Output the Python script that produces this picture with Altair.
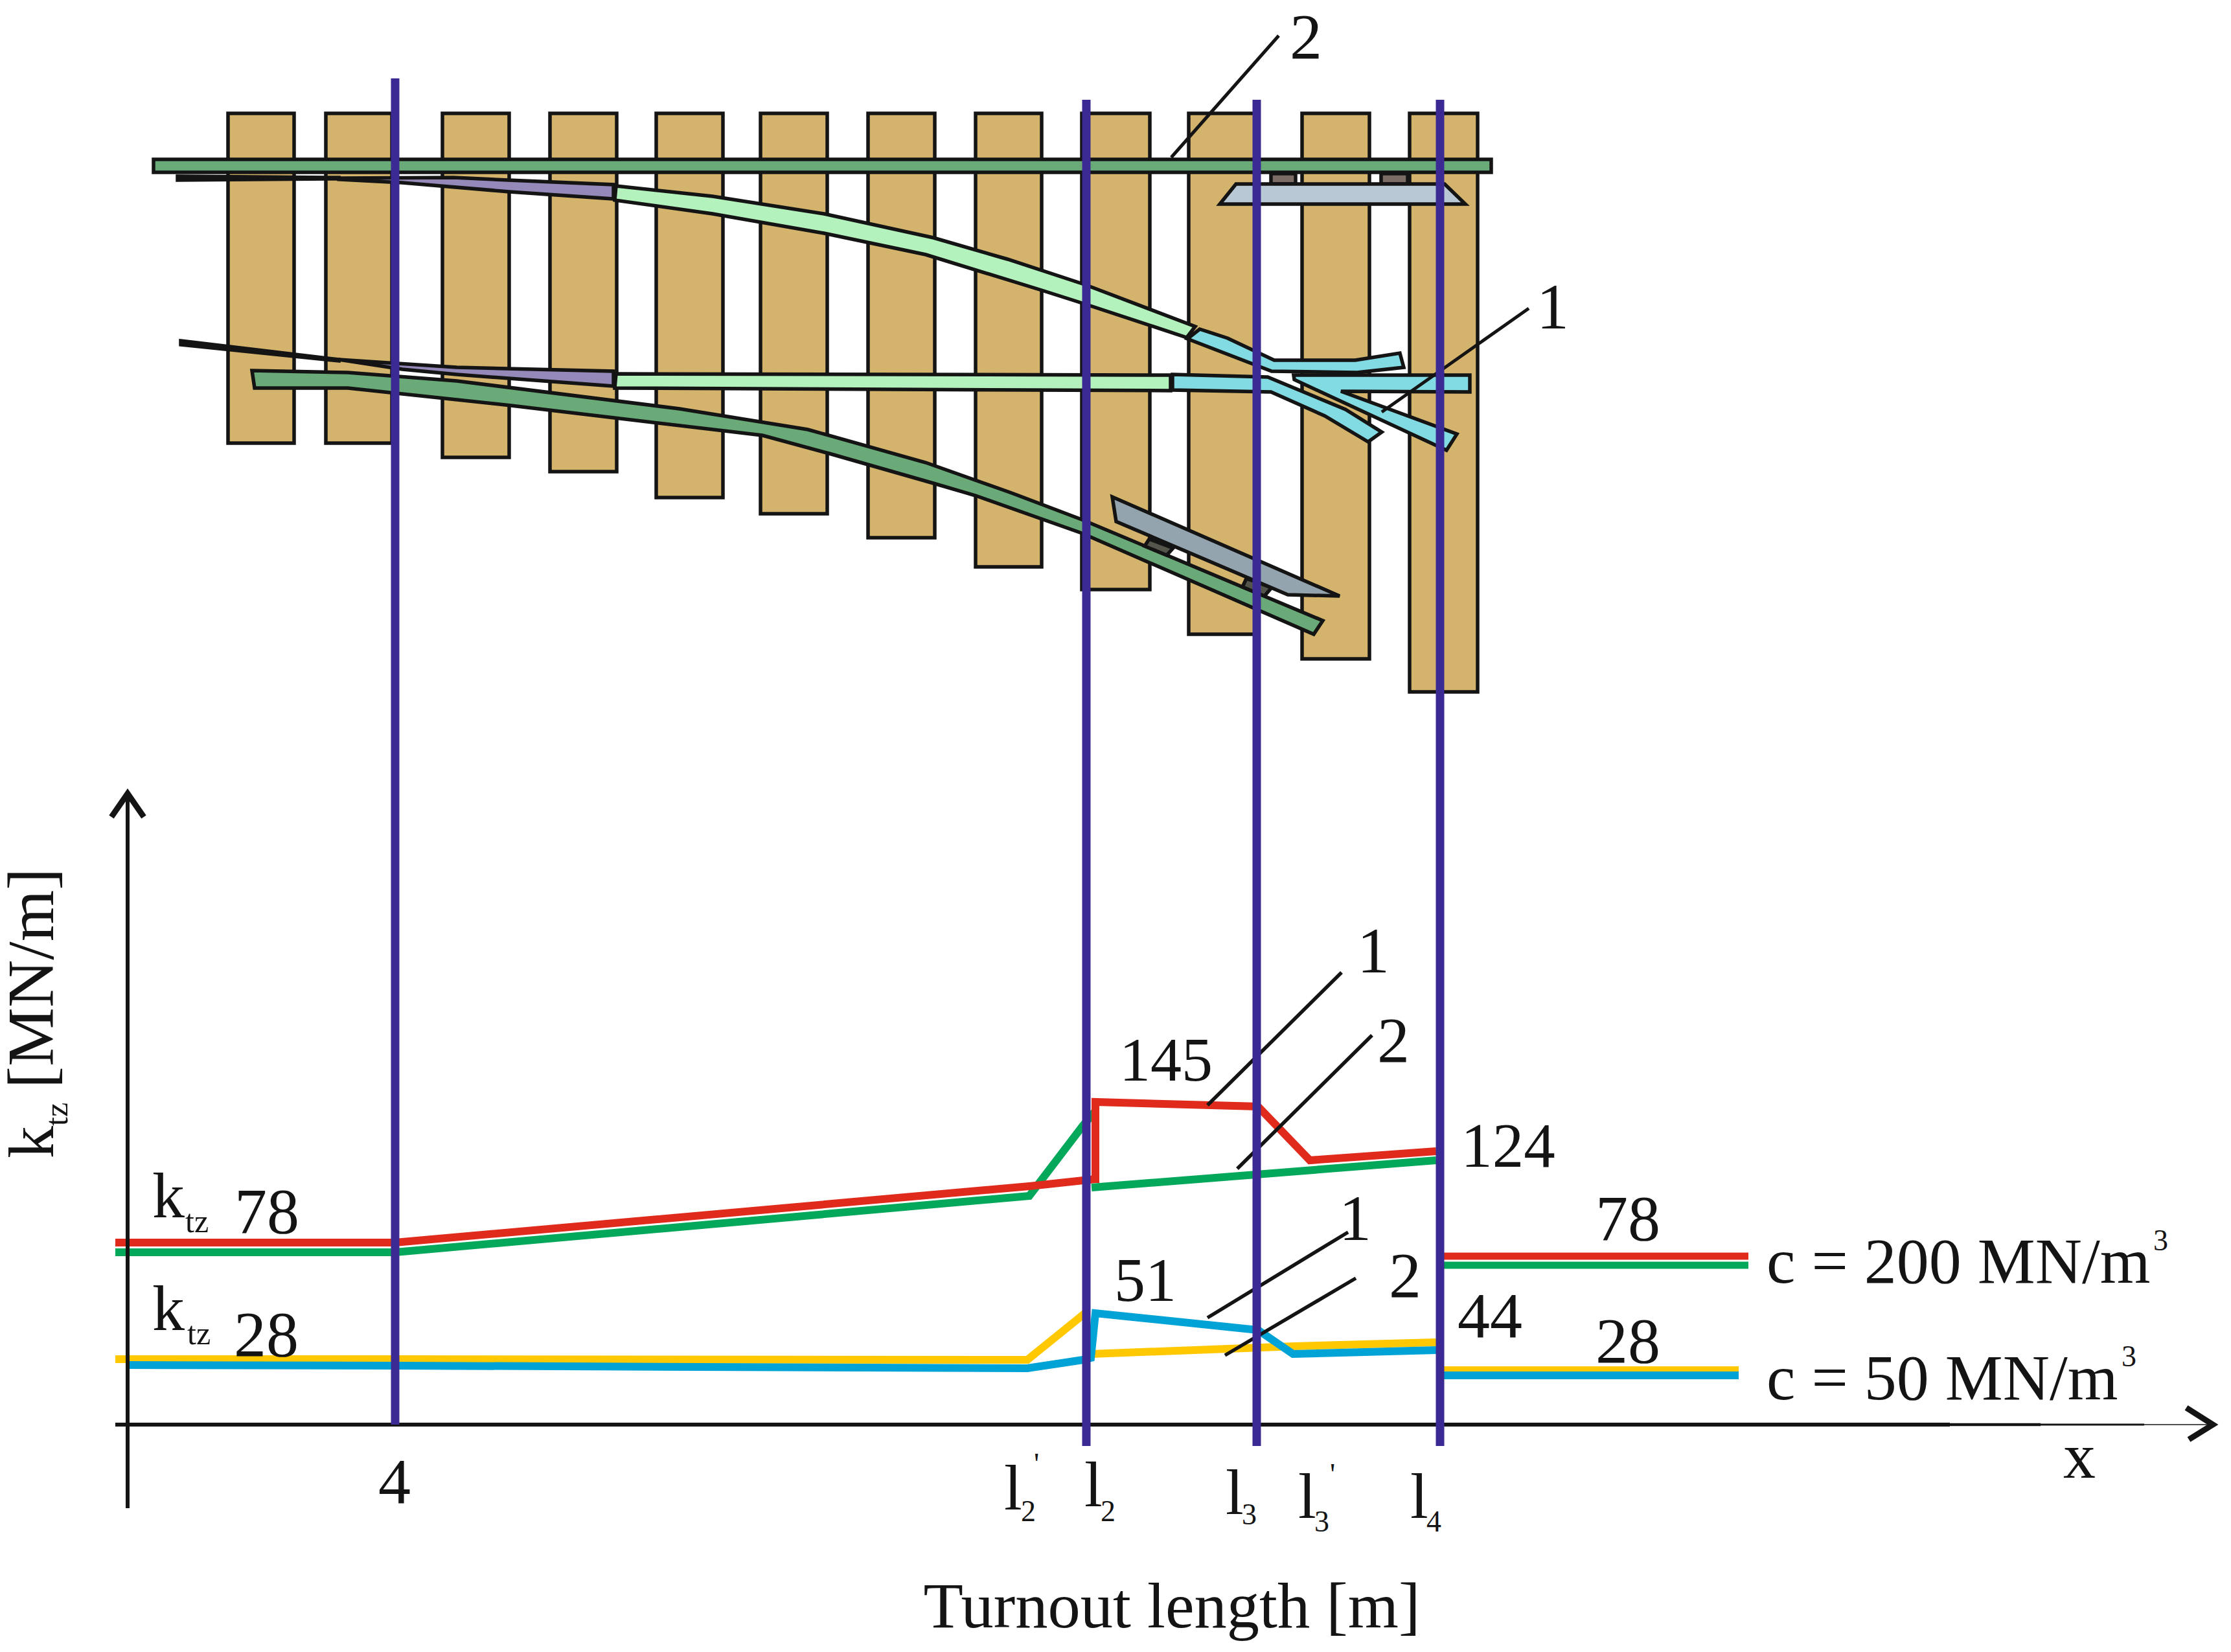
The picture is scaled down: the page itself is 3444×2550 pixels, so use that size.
import altair as alt
import pandas as pd

INK = "#141414"
W, H = 3428, 2530
X = alt.Scale(domain=[8, 8 + W], nice=False, zero=False)
Y = alt.Scale(domain=[8 + H, 8], nice=False, zero=False)

# sleepers: left, right, bottom (all share the same top)
sleeper_left = [352, 503, 683, 849, 1013, 1174, 1340, 1506, 1670, 1835, 2010, 2176]
sleeper_right = [454, 605, 786, 952, 1116, 1277, 1443, 1608, 1775, 1939, 2114, 2281]
sleeper_bottom = [684, 684, 706, 728, 768, 793, 830, 875, 910, 979, 1017, 1068]
sleeper_top = [175] * 12

# track parts, drawn in order: (fill, [(x, y), ...])
track_shapes = [
    ("#69AA78", [(237, 246), (2302, 246), (2302, 266), (237, 266)]),
    ("#7C6C66", [(1962, 268), (2000, 268), (2000, 284), (1962, 284)]),
    ("#7C6C66", [(2132, 268), (2173, 268), (2173, 284), (2132, 284)]),
    ("#B8C9D5", [(1908, 284), (2230, 284), (2262, 315), (1883, 315)]),
    ("#141414", [(274, 272), (523, 274), (523, 276), (274, 278)]),
    ("#9489B8", [(523, 275), (700, 274), (785, 278), (947, 285), (947, 307), (786, 296), (621, 282), (523, 277)]),
    ("#B3F2BC", [(951, 287), (1100, 303), (1272, 330), (1441, 367), (1555, 400), (1674, 439), (1845, 504),
                 (1832, 521), (1674, 469), (1608, 448), (1429, 393), (1272, 360), (1100, 330), (949, 309)]),
    ("#82DAE2", [(1852, 508), (1895, 522), (1967, 556), (2092, 556), (2161, 545), (2167, 567), (2095, 575),
                 (1963, 573), (1833, 523)]),
    ("#141414", [(279, 526), (523, 555), (523, 557), (279, 532)]),
    ("#69AA78", [(389, 572), (537, 575), (705, 588), (1049, 631), (1247, 663), (1429, 714), (1559, 760),
                 (1670, 802), (2042, 958), (2028, 979), (1670, 823), (1506, 765), (1441, 746), (1280, 700),
                 (1177, 672), (789, 626), (537, 599), (393, 599)]),
    ("#9489B8", [(523, 555), (705, 567), (947, 573), (947, 596), (705, 578), (621, 570)]),
    ("#B3F2BC", [(951, 577), (1807, 579), (1807, 603), (949, 599)]),
    ("#82DAE2", [(1997, 579), (2269, 579), (2269, 605), (2070, 604), (2249, 670), (2233, 695), (1998, 586)]),
    ("#82DAE2", [(1810, 578), (1957, 582), (2077, 632), (2133, 667), (2112, 682), (2045, 642), (1962, 605),
                 (1810, 602)]),
    ("#55554B", [(1774, 832), (1811, 846), (1801, 857), (1767, 843)]),
    ("#55554B", [(1924, 893), (1963, 907), (1952, 920), (1918, 906)]),
    ("#94A4AE", [(1717, 767), (2068, 920), (1988, 918), (1723, 805)]),
]

# stiffness curves, drawn in order: (colour, width, [(x, y), ...])
curves = [
    ("#04A85A", 12, [(178, 1933), (610, 1933), (1589, 1846), (1672, 1737), (1691, 1715)]),
    ("#04A85A", 12, [(1685, 1833), (2217, 1791)]),
    ("#DF2A1C", 12, [(178, 1918), (610, 1918), (1589, 1831), (1691, 1820)]),
    ("#DF2A1C", 12, [(1691, 1826), (1691, 1701), (1942, 1708), (2022, 1791), (2217, 1777)]),
    ("#04A85A", 11, [(2229, 1953), (2699, 1953)]),
    ("#DF2A1C", 11, [(2229, 1939), (2699, 1939)]),
    ("#FFC800", 12, [(178, 2098), (610, 2098), (1586, 2099), (1675, 2027)]),
    ("#FFC800", 12, [(1684, 2090), (1999, 2078), (2217, 2072)]),
    ("#00A3D6", 12, [(197, 2107), (610, 2108), (1586, 2112), (1672, 2099), (1684, 2096), (1691, 2027),
                     (1942, 2053), (1996, 2090), (2217, 2084)]),
    ("#FFC800", 8, [(2229, 2113), (2684, 2113)]),
    ("#00A3D6", 12, [(2229, 2123), (2684, 2123)]),
]

# leader lines and axis strokes: (width, [(x, y), ...])
leaders = [
    (5, [(1808, 243), (1974, 55)]),
    (5, [(2133, 636), (2360, 476)]),
    (5.5, [(1864, 1706), (2071, 1501)]),
    (5.5, [(1910, 1804), (2118, 1598)]),
    (5.5, [(1864, 2034), (2081, 1902)]),
    (5.5, [(1891, 2092), (2093, 1973)]),
]
axes_strokes = [
    (6, [(197, 1225), (197, 2328)]),
    (6, [(178, 2199), (3010, 2199)]),
    (4.5, [(3010, 2199), (3150, 2199)]),
    (3, [(3150, 2199), (3310, 2199)]),
    (1.5, [(3310, 2199), (3412, 2199)]),
    (9, [(172, 1261), (197, 1225), (222, 1261)]),
    (9, [(3375, 2173), (3416, 2199), (3379, 2222)]),
]

# vertical section lines: x, top, bottom
section_x = [610, 1677, 1940, 2223]
section_top = [121, 154, 154, 154]
section_bottom = [2199, 2232, 2232, 2232]

# labels: text, x, y (baseline), font size
center_labels = [
    ("2", 2016, 90, 100), ("1", 2397, 507, 100), ("1", 2120, 1501, 100), ("2", 2151, 1639, 100),
    ("145", 1800, 1668, 96), ("124", 2328, 1801, 97), ("51", 1768, 2008, 96), ("1", 2092, 1914, 100),
    ("2", 2169, 2002, 100), ("44", 2300, 2064, 100), ("78", 2513, 1914, 100), ("28", 2513, 2103, 100),
    ("78", 412, 1903, 100), ("28", 411, 2093, 100), ("4", 609, 2320, 100), ("x", 3210, 2281, 100),
    ("Turnout length [m]", 1809, 2512, 100.5),
]
left_labels = [
    ("k", 235, 1879, 100), ("tz", 286, 1902, 50), ("k", 235, 2053, 100), ("tz", 289, 2075, 50),
    ("c = 200 MN/m", 2727, 1980, 100), ("3", 3324, 1930, 46),
    ("c = 50 MN/m", 2727, 2160, 100), ("3", 3275, 2109, 46),
    ("l", 1550, 2330, 100), ("2", 1576, 2348, 46), ("'", 1596, 2275, 46),
    ("l", 1674, 2325, 100), ("2", 1699, 2348, 46),
    ("l", 1892, 2337, 100), ("3", 1917, 2353, 46),
    ("l", 2004, 2343, 100), ("3", 2029, 2364, 46), ("'", 2053, 2291, 46),
    ("l", 2177, 2343, 100), ("4", 2202, 2364, 46),
]
rotated_labels = [
    ("k", 82, 1788, 100), ("tz", 104, 1738, 50), ("[MN/m]", 82, 1680, 102),
]


def base(df):
    return alt.Chart(df)


def xy():
    return dict(
        x=alt.X("x:Q", scale=X, axis=None),
        y=alt.Y("y:Q", scale=Y, axis=None),
        order=alt.Order("i:Q"),
    )


def path_df(points):
    return pd.DataFrame({"x": [p[0] for p in points], "y": [p[1] for p in points], "i": range(len(points))})


layers = []

sleepers = pd.DataFrame({"x": sleeper_left, "x2": sleeper_right, "y": sleeper_top, "y2": sleeper_bottom})
layers.append(
    base(sleepers).mark_rect(fill="#D4B36C", stroke=INK, strokeWidth=5.5).encode(
        x=alt.X("x:Q", scale=X, axis=None), x2="x2:Q",
        y=alt.Y("y:Q", scale=Y, axis=None), y2="y2:Q",
    )
)

for fill, pts in track_shapes:
    layers.append(
        base(path_df(pts)).mark_line(interpolate="linear-closed", strokeWidth=5.5, strokeJoin="miter").encode(
            fill=alt.value(fill), stroke=alt.value(INK), **xy()
        )
    )

for width, pts in leaders[:2]:
    layers.append(
        base(path_df(pts)).mark_line(strokeWidth=width, color=INK, strokeCap="butt").encode(**xy())
    )

for color, width, pts in curves:
    layers.append(
        base(path_df(pts)).mark_line(strokeWidth=width, color=color, strokeJoin="miter", strokeCap="butt").encode(**xy())
    )

for width, pts in leaders[2:] + axes_strokes:
    layers.append(
        base(path_df(pts)).mark_line(strokeWidth=width, color=INK, strokeCap="butt", strokeJoin="miter").encode(**xy())
    )

sections = pd.DataFrame({"x": section_x, "y": section_top, "y2": section_bottom})
layers.append(
    base(sections).mark_rule(color="#3B2A94", strokeWidth=13).encode(
        x=alt.X("x:Q", scale=X, axis=None),
        y=alt.Y("y:Q", scale=Y, axis=None), y2="y2:Q",
    )
)


def text_layer(rows, align, angle=0):
    df = pd.DataFrame(rows, columns=["t", "x", "y", "s"])
    return base(df).mark_text(
        font="Liberation Serif", align=align, baseline="alphabetic", color=INK, angle=angle
    ).encode(
        x=alt.X("x:Q", scale=X, axis=None),
        y=alt.Y("y:Q", scale=Y, axis=None),
        text="t:N",
        size=alt.Size("s:Q", scale=None, legend=None),
    )


layers.append(text_layer(center_labels, "center"))
layers.append(text_layer(left_labels, "left"))
layers.append(text_layer(rotated_labels, "left", angle=270))

chart = alt.layer(*layers).resolve_scale(size="independent").properties(
    width=W, height=H, padding=0, autosize=alt.AutoSizeParams(type="none"), background="white"
).configure_view(stroke=None)

chart.save("out.html", embed_options={"renderer": "svg", "actions": False})
